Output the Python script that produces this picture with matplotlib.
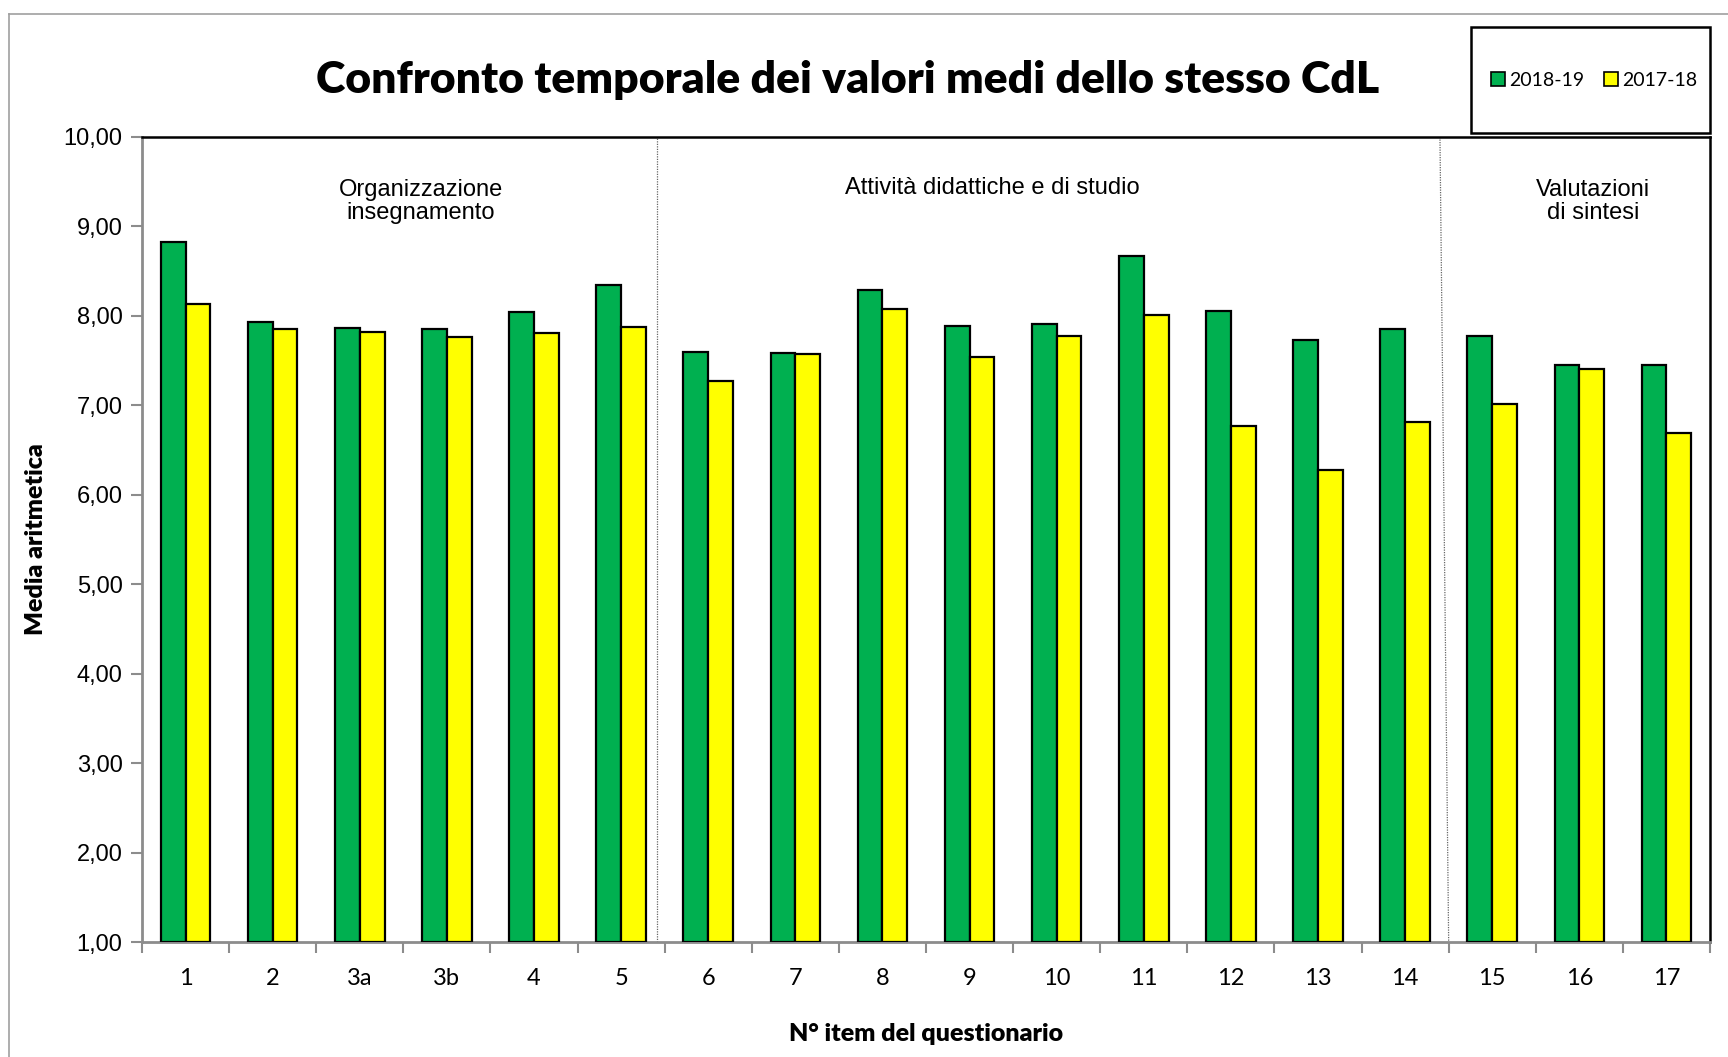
import matplotlib.pyplot as plt
import matplotlib.patches as mpatches
import numpy as np

# dati
items = ['1', '2', '3a', '3b', '4', '5', '6', '7', '8', '9', '10',
         '11', '12', '13', '14', '15', '16', '17']
media_1819 = [8.83, 7.93, 7.86, 7.85, 8.04, 8.35, 7.60, 7.59, 8.29, 7.89,
              7.91, 8.67, 8.05, 7.73, 7.85, 7.78, 7.45, 7.45]
media_1718 = [8.13, 7.85, 7.82, 7.76, 7.81, 7.88, 7.27, 7.57, 8.08, 7.54,
              7.77, 8.01, 6.77, 6.28, 6.81, 7.02, 7.41, 6.69]
anni = ['2018-19', '2017-18']
sezioni = ['Organizzazione\ninsegnamento', 'Attività didattiche e di studio',
           'Valutazioni\ndi sintesi']

verde = '#00B050'
giallo = '#FFFF00'
grigio = '#8c8c8c'

fig = plt.figure(figsize=(17.28, 10.57), dpi=100)
ax = fig.add_axes([142/1728, 1 - 942/1057, (1710-142)/1728, (942-137)/1057])

x = np.arange(len(items))
w = 0.285
ax.bar(x - w/2, np.array(media_1819) - 1, w, bottom=1, color=verde,
       edgecolor='black', linewidth=1.6, label=anni[0], zorder=3)
ax.bar(x + w/2, np.array(media_1718) - 1, w, bottom=1, color=giallo,
       edgecolor='black', linewidth=1.6, label=anni[1], zorder=3)

ax.set_xlim(-0.5, len(items) - 0.5)
ax.set_ylim(1, 10)
yt = np.arange(1, 11)
ax.set_yticks(yt)
ax.set_yticklabels([('%.2f' % v).replace('.', ',') for v in yt],
                   fontsize=17, family='Liberation Sans')
ax.set_xticks(x)
ax.set_xticklabels(items, fontsize=17, family='Lato')
ax.set_xticks(np.arange(-0.5, len(items)), minor=True)
ax.tick_params(axis='x', which='major', length=0, pad=19)
ax.tick_params(axis='x', which='minor', length=8, color=grigio, width=1.5)
ax.tick_params(axis='y', length=8, color=grigio, width=1.5, pad=6)

for s in ['left', 'bottom']:
    ax.spines[s].set_color(grigio)
    ax.spines[s].set_linewidth(2)
for s in ['top', 'right']:
    ax.spines[s].set_color('black')
    ax.spines[s].set_linewidth(1.8)

# separatori delle sezioni
ax.plot([5.41, 5.41], [1, 10], color='#666666', lw=0.9, ls=(0, (1, 1)), zorder=2)
ax.plot([14.40, 14.50], [10, 1], color='#666666', lw=0.9, ls=(0, (1, 1)), zorder=2)

ax.text(2.7, 9.28, sezioni[0], ha='center', va='center', fontsize=17,
        family='Liberation Sans', linespacing=1.1)
ax.text(9.26, 9.43, sezioni[1], ha='center', va='center', fontsize=17,
        family='Liberation Sans')
ax.text(16.16, 9.28, sezioni[2], ha='center', va='center', fontsize=17,
        family='Liberation Sans', linespacing=1.1)

ax.set_ylabel('Media aritmetica', fontsize=18, fontweight='heavy',
              family='Lato', labelpad=12)
ax.set_xlabel('N° item del questionario', fontsize=18, fontweight='heavy',
              family='Lato', labelpad=24)

fig.text(0.4907, 1 - 80/1057, 'Confronto temporale dei valori medi dello stesso CdL',
         ha='center', va='center', fontsize=32, fontweight='heavy', family='Lato')

# cornice esterna
fig.add_artist(plt.Line2D([9/1728, 9/1728], [0, 1 - 14/1057], color='#a0a0a0',
                          lw=1.2, transform=fig.transFigure))
fig.add_artist(plt.Line2D([9/1728, 1], [1 - 14/1057, 1 - 14/1057], color='#a0a0a0',
                          lw=1.2, transform=fig.transFigure))

# riquadro legenda
box = mpatches.Rectangle((1471/1728, 1 - 133/1057), (1710-1471)/1728, (133-27)/1057,
                         transform=fig.transFigure, facecolor='white',
                         edgecolor='black', lw=1.8, zorder=5)
fig.add_artist(box)
handles = [mpatches.Patch(facecolor=verde, edgecolor='black', lw=1.2),
           mpatches.Patch(facecolor=giallo, edgecolor='black', lw=1.2)]
leg = fig.legend(handles, anni, loc='center', ncol=2, frameon=False,
                 bbox_to_anchor=((1471+1710)/2/1728 + 0.002, 1 - 80/1057),
                 prop={'family': 'Lato', 'size': 14}, handlelength=0.75,
                 handleheight=0.75, handletextpad=0.2, columnspacing=1.0)
leg.set_zorder(6)

fig.savefig('out.png', dpi=100)
